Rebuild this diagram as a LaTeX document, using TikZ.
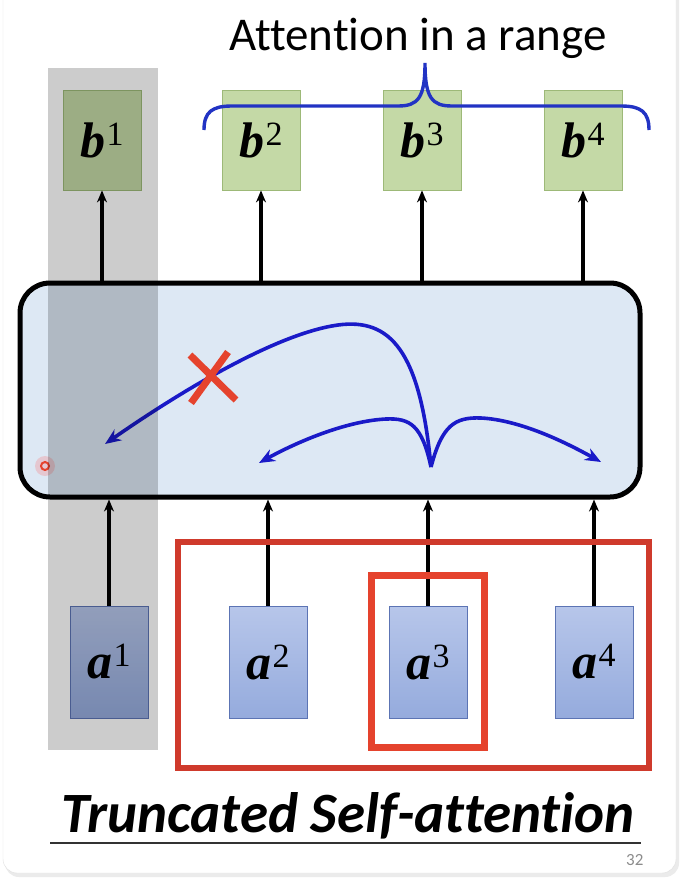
\documentclass[tikz,border=0pt]{standalone}
\usepackage{fontspec}
\setmainfont[Ligatures=NoCommon]{Carlito}
\newfontfamily\serifv{Liberation Serif}
\usetikzlibrary{arrows.meta,positioning}
\definecolor{gfill}{HTML}{C4D9A6}
\definecolor{gedge}{HTML}{9DB978}
\definecolor{afilltop}{HTML}{B7C6EA}
\definecolor{afillbot}{HTML}{95ABDD}
\definecolor{aedge}{HTML}{5C74B4}
\definecolor{attfill}{HTML}{DDE8F4}
\definecolor{curve}{HTML}{1A1AC8}
\definecolor{brace}{HTML}{2233C4}
\definecolor{redbig}{HTML}{CF3A2C}
\definecolor{redsmall}{HTML}{E5432D}
\tikzset{
  % udgangs-vektor b (groen)
  bbox/.style={draw=gedge, line width=.8pt, fill=gfill,
    minimum width=78pt, minimum height=100pt, inner sep=0pt},
  % indgangs-vektor a (blaa)
  abox/.style={draw=aedge, line width=.8pt, top color=afilltop, bottom color=afillbot,
    minimum width=78pt, minimum height=112pt, inner sep=0pt},
  flow/.style={draw=black, line width=3.4pt, -{Stealth[length=12pt,width=10pt]}},
  attend/.style={draw=curve, line width=3.6pt, -{Stealth[length=16pt,width=13pt]}},
  frame/.style={draw=redbig, line width=6.5pt},
}
\newcommand{\vlbl}[2]{{\serifv\fontsize{50}{50}\selectfont\bfseries\itshape #1}%
  \kern1pt\raisebox{12pt}{\serifv\fontsize{34}{34}\selectfont #2}}
\newcommand{\outbox}[3]{%
  \node[bbox] (#1) at (#2) {\vlbl{b}{#3}};}
\newcommand{\inbox}[3]{%
  \node[abox] (#1) at (#2) {\vlbl{a}{#3}};}

\begin{document}
\begin{tikzpicture}[x=1pt,y=-1pt]
\useasboundingbox (0,0) rectangle (682,894);
\fill[white] (0,0) rectangle (682,894);
% ----- kort (slide) -----
\fill[black!8] (5,-20) [rounded corners=14pt] rectangle (679,877);
\filldraw[fill=white, draw=black!12, rounded corners=14pt] (3,-20) rectangle (676,873);

% ----- raekke 0: udgange -----
\outbox{b1}{102,140}{1}
\outbox{b2}{261,140}{2}
\outbox{b3}{422,140}{3}
\outbox{b4}{583,140}{4}

% ----- raekke 1: self-attention -----
\node[draw=black, line width=5pt, fill=attfill, rounded corners=30pt,
  minimum width=620pt, minimum height=214pt] (attn) at (330,390) {};

% ----- raekke 2: indgange -----
\inbox{a1}{109,662}{1}
\inbox{a2}{268,662}{2}
\inbox{a3}{428,662}{3}
\inbox{a4}{594,662}{4}

% ----- pile op gennem laget -----
\draw[flow] (attn.north -| b1) -- (b1);
\draw[flow] (attn.north -| b2) -- (b2);
\draw[flow] (attn.north -| b3) -- (b3);
\draw[flow] (attn.north -| b4) -- (b4);
\draw[flow] (a1) -- (a1 |- attn.south);
\draw[flow] (a2) -- (a2 |- attn.south);
\draw[flow] (a3) -- (a3 |- attn.south);
\draw[flow] (a4) -- (a4 |- attn.south);

% ----- opmaerksomhed fra a3 -----
\coordinate (src) at (431,467);
\coordinate (t1) at (105,444);
\coordinate (t2) at (259,463);
\coordinate (t4) at (601,462);
\draw[attend] (src) .. controls (420,350) and (390,318) .. (338,325)
  .. controls (280,333) and (190,385) .. (t1);
\draw[attend] (src) .. controls (422,425) and (410,418) .. (386,419)
  .. controls (345,421) and (295,443) .. (t2);
\draw[attend] (src) .. controls (442,425) and (455,417) .. (481,418)
  .. controls (520,420) and (565,442) .. (t4);
% kryds: a1 udenfor raekkevidde
\draw[redsmall, line width=7pt] (190,355) -- (236,400) (228,352) -- (191,403);
% laser-prik
\fill[red!60, opacity=.25] (45,466) circle (10pt);
\draw[redsmall, line width=2pt] (45,466) circle (4pt);

% ----- graa overlay paa position 1 -----
\fill[black, opacity=.2] (48,68) rectangle (158,750);

% ----- raekkevidde -----
\draw[brace, line width=3.4pt]
  (204,130) .. controls (204,112) and (212,106) .. (232,106) -- (398,106)
  .. controls (418,106) and (425,98) .. (425,63)
  .. controls (425,98) and (432,106) .. (452,106) -- (621,106)
  .. controls (641,106) and (649,112) .. (649,130);
\node[font=\fontsize{47}{47}\selectfont, anchor=base] (range) at (418,50) {Attention in a range};

% ----- rammer -----
\draw[frame] (178,542) rectangle (649,768);
\draw[frame, draw=redsmall, line width=7pt] (371,575) rectangle (484,747);

% ----- titel -----
\node[font=\fontsize{57}{57}\selectfont\bfseries\itshape, anchor=base] (title) at (348,832) {Truncated Self-attention};
\draw[black!80, line width=1.6pt] (50,843) -- (641,843);
\node[font=\fontsize{17}{17}\selectfont, text=black!45, anchor=base east] (page) at (647,865) {32};
\end{tikzpicture}
\end{document}
